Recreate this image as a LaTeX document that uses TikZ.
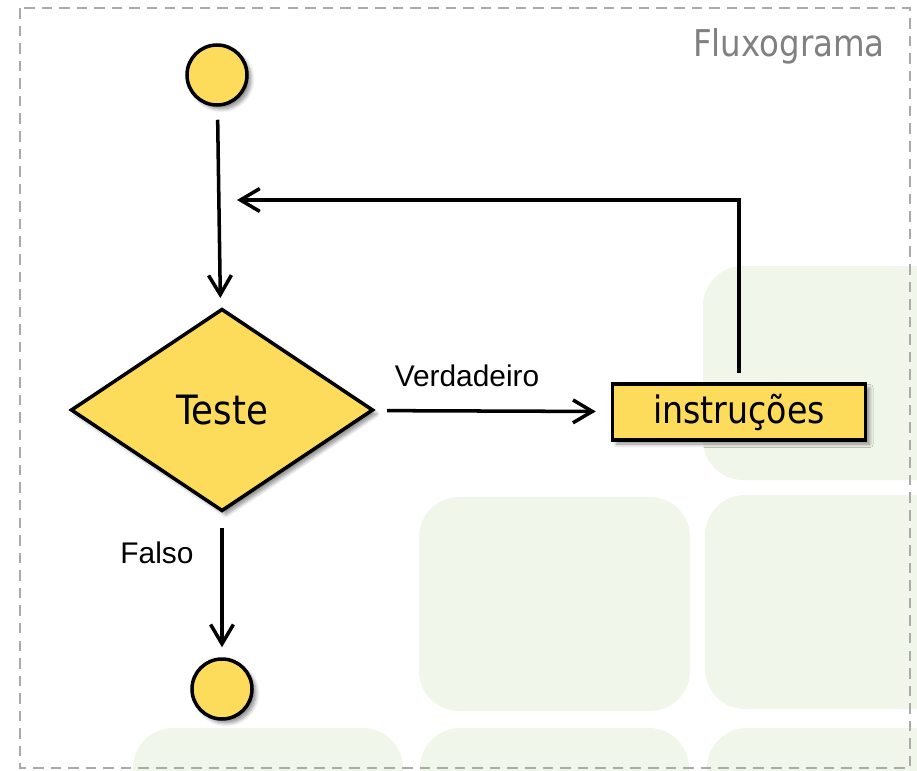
\documentclass[tikz,border=0pt]{standalone}
\usepackage{fontspec}
\setmainfont{Liberation Sans}
\newfontfamily\tahoma[FakeStretch=0.88]{DejaVu Sans}
\usetikzlibrary{arrows.meta,shapes.geometric,shadows.blur}

\definecolor{tilegreen}{HTML}{F0F7EA}
\definecolor{flowyellow}{HTML}{FDDC5C}
\definecolor{framegray}{HTML}{AAAAAA}
\definecolor{titlegray}{HTML}{808080}

\tikzset{
  tile/.style={fill=tilegreen, rounded corners=0.8cm},
  frame/.style={draw=framegray, line width=1.4pt, dash pattern=on 6pt off 4pt},
  flowshape/.style={draw=black, fill=flowyellow, line width=2pt,
    blur shadow={shadow xshift=0.08cm, shadow yshift=-0.08cm, shadow opacity=45, shadow blur steps=6}},
  terminal/.style={flowshape, circle, minimum size=1.2cm, inner sep=0pt},
  decision/.style={flowshape, diamond, minimum width=6.05cm, minimum height=4.05cm, inner sep=0pt,
    font=\tahoma\fontsize{23}{26}\selectfont},
  process/.style={flowshape, rectangle, minimum width=5.06cm, minimum height=1.12cm, inner sep=0pt,
    font=\tahoma\fontsize{21.5}{24}\selectfont},
  flow/.style={line width=2pt, -{Straight Barb[length=11pt,width=13pt]}},
  edgelabel/.style={font=\fontsize{17}{20}\selectfont},
  title/.style={text=titlegray, font=\tahoma\fontsize{21}{24}\selectfont}
}

\begin{document}
\begin{tikzpicture}[x=0.02cm,y=-0.02cm]
\useasboundingbox (0,0) rectangle (917,771);

% background tiles
\fill[tile] (703,266) rectangle (960,480);
\fill[tile] (419,497) rectangle (690,711);
\fill[tile] (705,495) rectangle (960,709);
\fill[tile] (133,728) rectangle (403,943);
\fill[tile] (420,728) rectangle (689,943);
\fill[tile] (707,728) rectangle (960,943);

\draw[frame] (20,8) rectangle (910,768);
\node[title, anchor=base east] (title) at (891,56) {Fluxograma};

\node[terminal] (start) at (217,75) {};
\node[decision] (test) at (222,410) {Teste};
\node[process] (instr) at (739,412) {instruções};
\node[terminal] (stop) at (222,689) {};

\draw[flow, shorten <=0.26cm, shorten >=0.2cm] (start) -- (test);

\draw[flow, shorten <=0.26cm, shorten >=0.3cm] (test) -- (instr);
\node[edgelabel] (verd) at (467,376) {Verdadeiro};

\coordinate (back) at (237,200);
\draw[flow, shorten <=0.18cm] (instr.north) -- (instr.north |- back) -- (back);

\draw[flow, shorten <=0.3cm, shorten >=0.2cm] (test) -- (stop);
\node[edgelabel] (falso) at (157,553) {Falso};

\end{tikzpicture}
\end{document}
